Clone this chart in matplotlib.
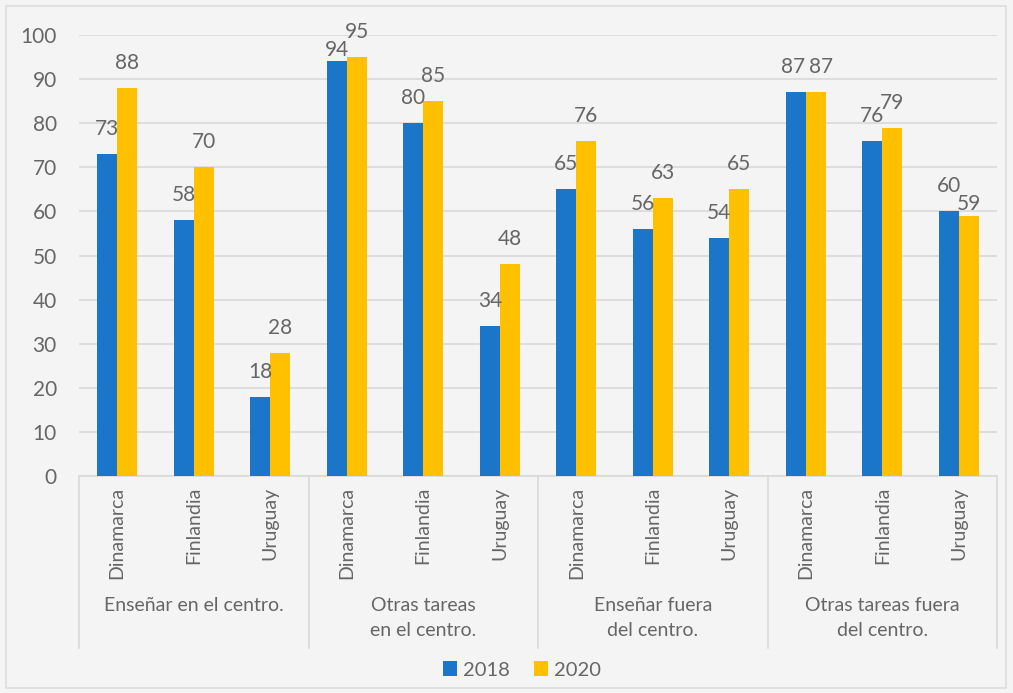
import matplotlib.pyplot as plt
from matplotlib.patches import Rectangle
import matplotlib.transforms as mtransforms

plt.rcParams['font.family'] = ['Lato', 'DejaVu Sans']

paises = ['Dinamarca', 'Finlandia', 'Uruguay'] * 4
grupos = ['Enseñar en el centro.', 'Otras tareas\nen el centro.',
          'Enseñar fuera\ndel centro.', 'Otras tareas fuera\ndel centro.']
v2018 = [73, 58, 18, 94, 80, 34, 65, 56, 54, 87, 76, 60]
v2020 = [88, 70, 28, 95, 85, 48, 76, 63, 65, 87, 79, 59]

# etiquetas que van más pegadas a la barra (índice, serie)
cerca = {(3, 0), (11, 1)}
# pequeños corrimientos horizontales (px) para que no se pisen
corrim = {(9, 0): -3, (9, 1): 5}

azul = '#1B75C9'
amarillo = '#FFC000'
gris_txt = '#666666'
gris_lin = '#d9d9d9'
fondo = '#f4f4f4'

fig = plt.figure(figsize=(10.13, 6.93), dpi=100, facecolor=fondo)
ax = fig.add_axes([79/1013, 1 - 476/693, 918/1013, 441/693])
ax.set_facecolor(fondo)

# marco exterior
fig.patches.append(Rectangle((6/1013, 5/693), 1000/1013, 682/693, transform=fig.transFigure,
                             fill=False, edgecolor='#dcdcdc', linewidth=1.2))

w = 0.26
x = list(range(len(paises)))
b1 = ax.bar([i - w/2 for i in x], v2018, width=w, color=azul, label='2018', zorder=3)
b2 = ax.bar([i + w/2 for i in x], v2020, width=w, color=amarillo, label='2020', zorder=3)

for s, barras in enumerate([b1, b2]):
    for i, r in enumerate(barras):
        dy = 8.5 if (i, s) in cerca else 18
        dx = corrim.get((i, s), 0) * 0.72
        ax.annotate(str(int(r.get_height())), (r.get_x() + r.get_width()/2, r.get_height()),
                    xytext=(dx, dy), textcoords='offset points', ha='center', va='center',
                    fontsize=15, color=gris_txt)

ax.set_ylim(0, 100)
ax.set_xlim(-0.5, len(paises) - 0.5)
ax.set_yticks(range(0, 101, 10))
ax.yaxis.grid(True, color=gris_lin, linewidth=1.2, zorder=0)
ax.set_axisbelow(True)
for sp in ['top', 'right', 'left']:
    ax.spines[sp].set_visible(False)
ax.spines['bottom'].set_color(gris_lin)
ax.spines['bottom'].set_linewidth(1.2)
ax.tick_params(axis='y', length=0, pad=16, labelsize=15, labelcolor=gris_txt)
ax.set_xticks(x)
ax.set_xticklabels(paises, rotation=90, fontsize=14, color=gris_txt)
ax.tick_params(axis='x', length=0, pad=8)

# separadores y nombres de grupo
trans = mtransforms.blended_transform_factory(ax.transData, ax.transAxes)
for k in range(5):
    ax.plot([3*k - 0.5, 3*k - 0.5], [0, -172/441], transform=trans, color=gris_lin,
            linewidth=1.2, clip_on=False)
for k, g in enumerate(grupos):
    ax.text(3*k + 1, -121/441, g, transform=trans, ha='center', va='top',
            fontsize=14, color=gris_txt, linespacing=1.55)

fig.legend(handles=[b1, b2], loc='center', bbox_to_anchor=(0.515, 1 - 670/693), ncol=2,
           frameon=False, fontsize=14.5, labelcolor=gris_txt, handlelength=0.7,
           handleheight=0.7, handletextpad=0.3, columnspacing=1.2)

fig.savefig('out.png', dpi=100, facecolor=fondo)
